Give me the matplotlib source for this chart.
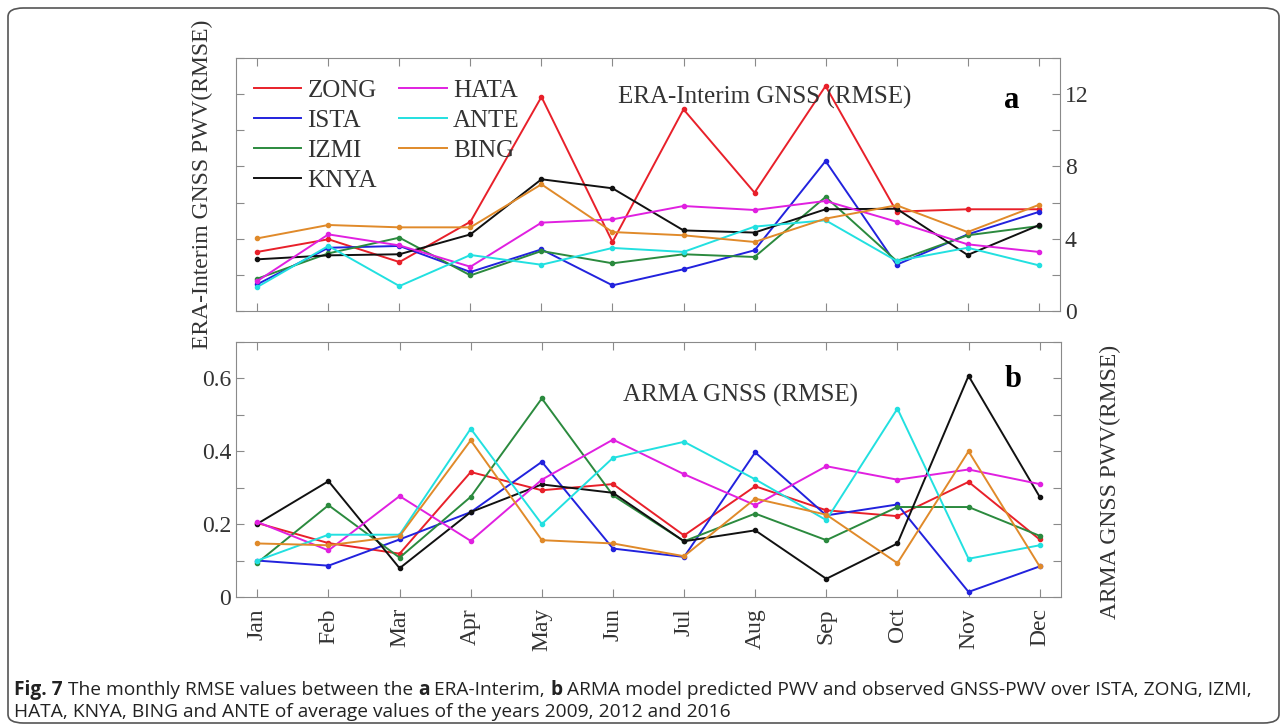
import numpy as np
import matplotlib
matplotlib.use("Agg")
import matplotlib.pyplot as plt
from matplotlib.patches import FancyBboxPatch
from matplotlib.lines import Line2D

months = ['Jan', 'Feb', 'Mar', 'Apr', 'May', 'Jun', 'Jul', 'Aug', 'Sep', 'Oct', 'Nov', 'Dec']
stations = ['ZONG', 'ISTA', 'IZMI', 'KNYA', 'HATA', 'ANTE', 'BING']
colors = {'ZONG': '#e8202a', 'ISTA': '#2222dd', 'IZMI': '#2b8a3e', 'KNYA': '#111111',
          'HATA': '#e020e0', 'ANTE': '#22e0e0', 'BING': '#e08a2a'}

# ERA-Interim RMSE (mm)
era_zong = [3.27, 3.97, 2.71, 4.94, 11.85, 3.82, 11.16, 6.55, 12.45, 5.50, 5.63, 5.63]
era_ista = [1.48, 3.50, 3.60, 2.16, 3.41, 1.42, 2.31, 3.36, 8.30, 2.56, 4.24, 5.48]
era_izmi = [1.79, 3.19, 4.06, 1.97, 3.32, 2.64, 3.14, 2.99, 6.31, 2.77, 4.19, 4.70]
era_knya = [2.86, 3.08, 3.14, 4.24, 7.29, 6.79, 4.46, 4.34, 5.63, 5.66, 3.10, 4.74]
era_hata = [1.66, 4.24, 3.63, 2.45, 4.89, 5.07, 5.81, 5.59, 6.09, 4.94, 3.69, 3.27]
era_ante = [1.33, 3.60, 1.38, 3.10, 2.56, 3.49, 3.27, 4.67, 5.02, 2.77, 3.50, 2.53]
era_bing = [4.02, 4.76, 4.63, 4.63, 7.01, 4.37, 4.19, 3.82, 5.11, 5.85, 4.37, 5.87]

# ARMA RMSE (mm)
arma_zong = [0.203, 0.148, 0.119, 0.343, 0.293, 0.310, 0.169, 0.304, 0.238, 0.222, 0.316, 0.158]
arma_ista = [0.100, 0.086, 0.158, 0.233, 0.371, 0.133, 0.110, 0.397, 0.224, 0.254, 0.014, 0.084]
arma_izmi = [0.094, 0.252, 0.108, 0.275, 0.545, 0.279, 0.153, 0.229, 0.156, 0.247, 0.247, 0.168]
arma_knya = [0.201, 0.318, 0.079, 0.233, 0.309, 0.286, 0.153, 0.183, 0.050, 0.147, 0.607, 0.275]
arma_hata = [0.206, 0.128, 0.277, 0.154, 0.322, 0.432, 0.337, 0.252, 0.359, 0.322, 0.350, 0.310]
arma_ante = [0.100, 0.171, 0.171, 0.462, 0.200, 0.382, 0.426, 0.323, 0.211, 0.517, 0.105, 0.142]
arma_bing = [0.147, 0.142, 0.167, 0.430, 0.156, 0.147, 0.112, 0.270, 0.226, 0.093, 0.400, 0.084]

era = {'ZONG': era_zong, 'ISTA': era_ista, 'IZMI': era_izmi, 'KNYA': era_knya,
       'HATA': era_hata, 'ANTE': era_ante, 'BING': era_bing}
arma = {'ZONG': arma_zong, 'ISTA': arma_ista, 'IZMI': arma_izmi, 'KNYA': arma_knya,
        'HATA': arma_hata, 'ANTE': arma_ante, 'BING': arma_bing}

x = np.arange(1, 13)
serif = 'Liberation Serif'
gray = '#8a8a8a'
tcol = '#333333'

fig = plt.figure(figsize=(12.87, 7.27), dpi=100)

# rounded frame round the figure
frame = FancyBboxPatch((8 / 1287, 4 / 727), 1271 / 1287, 715 / 727,
                       boxstyle='round,pad=0,rounding_size=0.012',
                       transform=fig.transFigure, fill=False, ec='#555555', lw=1.2)
fig.patches.append(frame)

ax1 = fig.add_axes([0.1834, 0.5722, 0.6402, 0.3480])
ax2 = fig.add_axes([0.1834, 0.1788, 0.6410, 0.3508])

for s in stations:
    ax1.plot(x, era[s], color=colors[s], lw=1.4, marker='.', ms=6, label=s)
    ax2.plot(x, arma[s], color=colors[s], lw=1.4, marker='.', ms=6, label=s)

for ax in (ax1, ax2):
    ax.set_xlim(0.7, 12.3)
    ax.set_xticks(x)
    for sp in ax.spines.values():
        sp.set_color(gray)
    ax.tick_params(direction='in', top=True, right=True, length=6, color=gray,
                   labelcolor=tcol, labelsize=17)
    for lab in ax.get_xticklabels() + ax.get_yticklabels():
        lab.set_family(serif)

# top panel
ax1.set_ylim(0, 14)
ax1.set_yticks(np.arange(0, 15, 2))
ax1.set_yticklabels([str(v) if v % 4 == 0 else '' for v in range(0, 15, 2)], family=serif)
ax1.tick_params(labelleft=False, labelright=True, labelbottom=False)
ax1.set_ylabel('ERA-Interim GNSS PWV(RMSE)', family=serif, fontsize=17, color=tcol)
ax1.yaxis.set_label_coords(-0.028, 0.5)
ax1.text(0.642, 0.846, 'ERA-Interim GNSS (RMSE)', transform=ax1.transAxes, family=serif,
         fontsize=18, color=tcol, ha='center', va='center')
ax1.text(0.942, 0.834, 'a', transform=ax1.transAxes, family=serif, fontsize=22,
         fontweight='bold', ha='center', va='center')
handles = [Line2D([], [], color=colors[s], lw=1.4) for s in stations]
leg = ax1.legend(handles, stations, loc='upper left', bbox_to_anchor=(0.0, 0.985), ncol=2,
                 frameon=False, prop={'family': serif, 'size': 18}, handlelength=1.9,
                 handletextpad=0.25, columnspacing=0.9, labelspacing=0.3, borderaxespad=0.3)
for t in leg.get_texts():
    t.set_color(tcol)

# bottom panel
ax2.set_ylim(0, 0.7)
ax2.set_yticks(np.arange(0, 0.71, 0.1))
ax2.set_yticklabels(['0', '', '0.2', '', '0.4', '', '0.6', ''], family=serif)
ax2.set_xticklabels(months, rotation=90, family=serif)
ax2.tick_params(axis='x', pad=8)
ax2.yaxis.set_label_position('right')
ax2.set_ylabel('ARMA GNSS PWV(RMSE)', family=serif, fontsize=17, color=tcol)
ax2.yaxis.set_label_coords(1.047, 0.45)
ax2.text(0.612, 0.792, 'ARMA GNSS (RMSE)', transform=ax2.transAxes, family=serif,
         fontsize=18, color=tcol, ha='center', va='center')
ax2.text(0.942, 0.851, 'b', transform=ax2.transAxes, family=serif, fontsize=22,
         fontweight='bold', ha='center', va='center')

# caption, written piece by piece so the bold parts sit inline
cap_font = 'Open Sans'
cap_size = 13.8
line1 = [('Fig. 7', 'bold'), (' The monthly RMSE values between the ', 'normal'), ('a', 'bold'),
         (' ERA-Interim, ', 'normal'), ('b', 'bold'),
         (' ARMA model predicted PWV and observed GNSS-PWV over ISTA, ZONG, IZMI,', 'normal')]
line2 = [('HATA, KNYA, BING and ANTE of average values of the years 2009, 2012 and 2016', 'normal')]

renderer = fig.canvas.get_renderer()
for parts, ypx in ((line1, 690), (line2, 712)):
    xpx = 14
    for txt, wt in parts:
        t = fig.text(xpx / 1287, 1 - ypx / 727, txt, family=cap_font, fontsize=cap_size,
                     fontweight=wt, color='#222222', va='center', ha='left')
        xpx += t.get_window_extent(renderer).width

fig.savefig('out.png', dpi=100)
